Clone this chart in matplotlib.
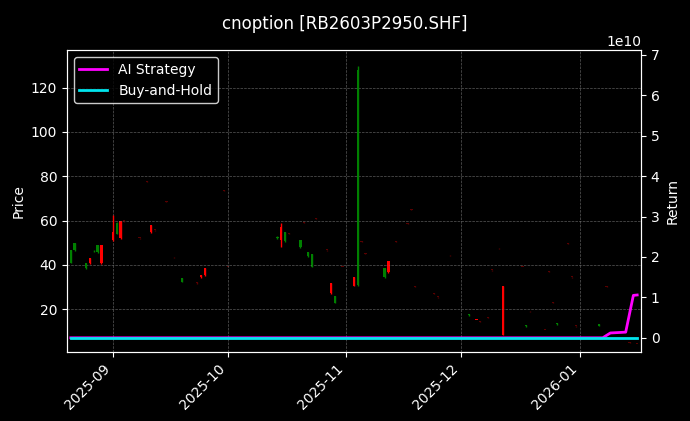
import numpy as np
import pandas as pd
from matplotlib import pyplot as plt
import matplotlib.dates as mdates

# candles: date, open, high, low, close
dates = ["2025-08-21", "2025-08-22", "2025-08-25", "2025-08-26", "2025-08-27", "2025-08-28", "2025-08-29",
         "2025-09-01", "2025-09-02", "2025-09-03", "2025-09-04", "2025-09-08", "2025-09-10", "2025-09-11",
         "2025-09-12", "2025-09-15", "2025-09-17", "2025-09-19", "2025-09-23", "2025-09-24", "2025-09-25",
         "2025-09-30", "2025-10-01", "2025-10-14", "2025-10-15", "2025-10-16", "2025-10-17", "2025-10-20",
         "2025-10-21", "2025-10-22", "2025-10-23", "2025-10-24", "2025-10-27", "2025-10-28", "2025-10-29",
         "2025-10-31", "2025-11-03", "2025-11-04", "2025-11-05", "2025-11-06", "2025-11-11", "2025-11-12",
         "2025-11-14", "2025-11-17", "2025-11-18", "2025-11-19", "2025-11-24", "2025-11-25", "2025-11-28",
         "2025-12-03", "2025-12-05", "2025-12-06", "2025-12-08", "2025-12-09", "2025-12-11", "2025-12-12",
         "2025-12-17", "2025-12-18", "2025-12-19", "2025-12-23", "2025-12-24", "2025-12-25", "2025-12-26",
         "2025-12-29", "2025-12-30", "2025-12-31", "2026-01-06", "2026-01-08", "2026-01-14", "2026-01-16"]
opens = [46.6, 49.7, 40.7, 40.7, 46.4, 48.8, 40.7, 51.0, 59.0, 52.0, 59.7, 52.0, 77.6, 54.7,
         55.6, 68.6, 43.4, 34.0, 31.7, 34.4, 35.3, 73.6, 39.0, 52.5, 51.0, 54.7, 54.0, 51.0,
         59.0, 45.7, 44.8, 61.0, 46.6, 27.2, 25.9, 39.0, 30.4, 128.0, 50.6, 45.0, 38.5, 36.7,
         50.6, 58.7, 65.0, 30.0, 27.0, 25.4, 44.3, 17.8, 15.0, 14.3, 16.0, 37.6, 47.5, 8.3,
         39.0, 12.8, 19.0, 10.5, 37.0, 23.0, 13.6, 49.7, 34.4, 12.3, 13.2, 30.0, 4.7, 4.2]
highs = [46.8, 49.9, 40.9, 43.2, 46.8, 48.9, 49.1, 62.3, 59.2, 59.8, 60.0, 52.2, 77.8, 58.0,
         55.8, 68.8, 43.6, 34.2, 32.0, 35.5, 38.7, 73.8, 39.2, 52.8, 58.7, 54.9, 54.2, 51.2,
         59.2, 45.9, 45.0, 61.2, 46.8, 31.7, 26.1, 39.2, 34.6, 130.0, 50.8, 45.2, 38.7, 41.8,
         50.8, 58.9, 65.2, 30.2, 27.2, 25.6, 44.5, 17.9, 15.7, 14.8, 16.2, 37.8, 47.7, 30.6,
         39.2, 13.0, 19.2, 10.7, 37.2, 23.2, 13.8, 49.9, 34.6, 12.5, 13.3, 30.2, 4.9, 4.4]
lows = [40.6, 46.4, 38.3, 40.5, 45.8, 45.5, 40.5, 50.8, 53.8, 51.8, 59.5, 51.8, 77.4, 54.5,
        55.4, 68.4, 43.2, 32.0, 31.5, 34.2, 35.1, 73.4, 38.8, 51.8, 48.0, 50.4, 53.8, 47.8,
        58.8, 43.7, 38.8, 60.8, 46.4, 26.8, 22.5, 38.8, 30.2, 30.5, 50.4, 44.8, 34.0, 36.5,
        50.4, 58.5, 64.8, 29.8, 26.8, 25.2, 44.1, 16.8, 15.3, 14.1, 15.8, 37.4, 47.3, 8.1,
        38.8, 12.1, 18.8, 10.3, 36.8, 22.8, 12.8, 49.5, 34.2, 12.1, 12.3, 29.8, 4.5, 4.0]
closes = [40.8, 46.6, 38.5, 43.0, 46.0, 45.7, 49.0, 54.7, 54.0, 59.6, 59.8, 52.1, 77.5, 57.8,
          55.7, 68.5, 43.3, 32.2, 31.8, 35.3, 38.5, 73.5, 38.9, 52.0, 57.0, 50.6, 53.9, 48.0,
          58.9, 43.9, 39.0, 60.9, 46.5, 31.7, 22.7, 38.9, 34.4, 30.8, 50.5, 44.9, 34.4, 41.6,
          50.5, 58.6, 64.9, 29.9, 26.9, 25.3, 44.2, 17.2, 15.5, 14.6, 15.9, 37.5, 47.4, 30.4,
          38.9, 12.4, 18.9, 10.4, 36.9, 22.9, 13.2, 49.6, 34.3, 12.2, 12.5, 29.9, 4.6, 4.1]

ret_dates = ["2025-08-21", "2026-01-07", "2026-01-09", "2026-01-13", "2026-01-15", "2026-01-16"]
ai_ret = [0.0, 0.0, 0.12e10, 0.14e10, 1.05e10, 1.06e10]
bh_dates = ["2025-08-21", "2026-01-16"]
bh_ret = [0.0, 0.0]

plt.style.use("dark_background")
fig = plt.figure(figsize=(6.9, 4.21), dpi=100)
ax = fig.add_axes([0.097, 0.164, 0.832, 0.717])
ax2 = ax.twinx()

d = pd.to_datetime(dates)
for dt, o, h, l, c in zip(d, opens, highs, lows, closes):
    if abs(c - o) < 0.3:
        col = "#5a0000"
    elif c > o:
        col = "red"
    else:
        col = "green"
    ax.vlines(dt, l, h, color=col, linewidth=1)
    ax.bar(dt, max(abs(c - o), 0.4), bottom=min(o, c), width=0.6, color=col)

ax.set_ylim(0.6, 137)
ax.set_xlim(pd.Timestamp("2025-08-20"), pd.Timestamp("2026-01-17"))
ax.set_ylabel("Price")
ax.grid(True, color="gray", linestyle="--", linewidth=0.5, alpha=0.7)
ax.xaxis.set_major_locator(mdates.MonthLocator())
ax.xaxis.set_major_formatter(mdates.DateFormatter("%Y-%m"))
plt.setp(ax.get_xticklabels(), rotation=45, ha="right")

ax2.plot(pd.to_datetime(ret_dates), ai_ret, color="magenta", linewidth=2, label="AI Strategy")
ax2.plot(pd.to_datetime(bh_dates), bh_ret, color="#00e5ee", linewidth=2, label="Buy-and-Hold")
ax2.set_ylim(-0.35e10, 7.12e10)
ax2.set_ylabel("Return")
ax2.legend(loc="upper left", edgecolor="white")

fig.suptitle("cnoption [RB2603P2950.SHF]", y=0.965)
fig.savefig("out.png", facecolor="black")
